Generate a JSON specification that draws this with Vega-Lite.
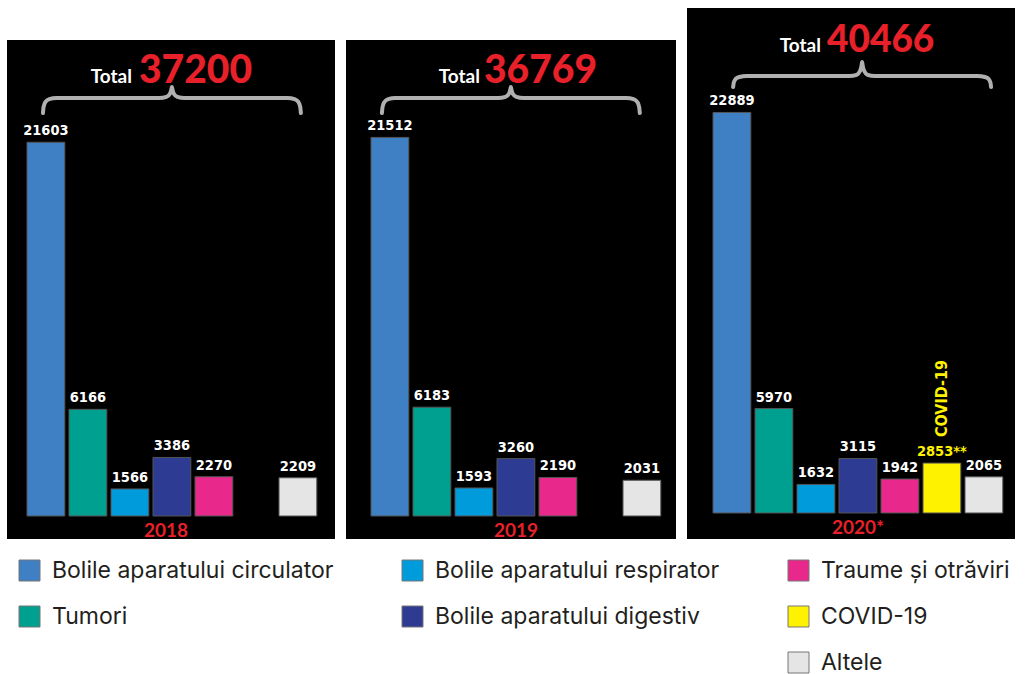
{
  "$schema": "https://vega.github.io/schema/vega-lite/v6.json",
  "background": "white",
  "padding": {"left": 7, "top": 8, "right": 0, "bottom": 0},
  "spacing": 11,
  "config": {"view": {"stroke": null}},
  "hconcat": [
    {
      "width": 328, "height": 531,
      "data": {"values": [
        {"year": "2018", "cat": "Bolile aparatului circulator", "value": 21603, "label": "21603"},
        {"year": "2018", "cat": "Tumori", "value": 6166, "label": "6166"},
        {"year": "2018", "cat": "Bolile aparatului respirator", "value": 1566, "label": "1566"},
        {"year": "2018", "cat": "Bolile aparatului digestiv", "value": 3386, "label": "3386"},
        {"year": "2018", "cat": "Traume și otrăviri", "value": 2270, "label": "2270"},
        {"year": "2018", "cat": "Altele", "value": 2209, "label": "2209"}
      ]},
      "resolve": {"scale": {"x": "independent"}},
      "layer": [
        {
          "data": {"values": [{"panel": "2018"}]},
          "mark": {"type": "rect", "color": "black"},
          "encoding": {
            "x": {"datum": 0, "type": "quantitative", "axis": null, "scale": {"domain": [0, 1], "nice": false, "zero": false}},
            "x2": {"datum": 1},
            "y": {"datum": -1329, "type": "quantitative", "axis": null, "scale": {"domain": [-1329, 29364], "nice": false, "zero": false}},
            "y2": {"datum": 27514}
          }
        },
        {
          "mark": {"type": "bar", "stroke": "#555", "strokeWidth": 1},
          "encoding": {
            "x": {"field": "cat", "type": "nominal", "axis": null, "scale": {"type": "band", "domain": ["Bolile aparatului circulator", "Tumori", "Bolile aparatului respirator", "Bolile aparatului digestiv", "Traume și otrăviri", "COVID-19", "Altele"], "paddingInner": 0.1, "paddingOuter": 0.4548, "align": 0.5236}},
            "y": {"field": "value", "type": "quantitative", "axis": null, "scale": {"domain": [-1329, 29364], "nice": false, "zero": false}},
            "color": {"field": "cat", "type": "nominal",
              "scale": {"domain": ["Bolile aparatului circulator", "Bolile aparatului respirator", "Traume și otrăviri", "Tumori", "Bolile aparatului digestiv", "COVID-19", " ", "  ", "Altele"],
                        "range": ["#3f7fc4", "#009bdb", "#e8298b", "#00a091", "#2e3b92", "#fff200", "rgba(0,0,0,0)", "rgba(0,0,0,0)", "#e5e5e5"]},
              "legend": {"orient": "none", "legendX": 11, "legendY": 551, "columns": 3, "direction": "horizontal", "title": null, "padding": 0,
                "symbolType": "square", "symbolSize": 441, "symbolStrokeWidth": 1,
                "symbolStrokeColor": {"expr": "datum.label === ' ' || datum.label === '  ' ? 'rgba(0,0,0,0)' : '#777777'"},
                "labelFont": "Inter", "labelFontSize": 23, "labelColor": "#231f20", "labelOffset": 11, "labelLimit": 400,
                "rowPadding": 21, "columnPadding": 66}}
          }
        },
        {
          "mark": {"type": "text", "baseline": "alphabetic", "dy": -7, "font": "DejaVu Sans Condensed, Roboto, sans-serif", "fontWeight": "bold", "fontSize": 14.5},
          "encoding": {
            "x": {"field": "cat", "type": "nominal", "axis": null, "scale": {"type": "band", "domain": ["Bolile aparatului circulator", "Tumori", "Bolile aparatului respirator", "Bolile aparatului digestiv", "Traume și otrăviri", "COVID-19", "Altele"], "paddingInner": 0.1, "paddingOuter": 0.4548, "align": 0.5236}},
            "y": {"field": "value", "type": "quantitative", "axis": null, "scale": {"domain": [-1329, 29364], "nice": false, "zero": false}},
            "text": {"field": "label"},
            "color": {"value": "white"}
          }
        },
        {
          "data": {"values": [
            {"u": -0.07, "v": 23295}, {"u": -0.055, "v": 23642}, {"u": -0.01, "v": 23931}, {"u": 0.08, "v": 24092}, {"u": 0.25, "v": 24162},
            {"u": 2.7, "v": 24162}, {"u": 2.87, "v": 24231}, {"u": 2.95, "v": 24393}, {"u": 2.985, "v": 24624}, {"u": 3.0, "v": 24798},
            {"u": 3.015, "v": 24624}, {"u": 3.05, "v": 24393}, {"u": 3.13, "v": 24231}, {"u": 3.3, "v": 24162}, {"u": 5.75, "v": 24162},
            {"u": 5.92, "v": 24092}, {"u": 6.01, "v": 23931}, {"u": 6.055, "v": 23642}, {"u": 6.07, "v": 23295}
          ]},
          "mark": {"type": "line", "interpolate": "monotone", "color": "#b0b0b0", "strokeWidth": 4, "strokeCap": "round"},
          "encoding": {
            "x": {"field": "u", "type": "quantitative", "axis": null, "scale": {"domain": [-0.926, 6.883], "nice": false, "zero": false}},
            "y": {"field": "v", "type": "quantitative", "axis": null, "scale": {"domain": [-1329, 29364], "nice": false, "zero": false}},
            "order": {"field": "u"}
          }
        },
        {
          "data": {"values": [{"total": 37200, "year": "2018"}]},
          "mark": {"type": "text", "text": "Total", "align": "right", "baseline": "alphabetic", "xOffset": -39, "font": "Lato", "fontWeight": "bold", "fontSize": 19, "color": "white"},
          "encoding": {"y": {"datum": 25029, "type": "quantitative", "axis": null, "scale": {"domain": [-1329, 29364], "nice": false, "zero": false}}}
        },
        {
          "data": {"values": [{"total": 37200, "year": "2018"}]},
          "mark": {"type": "text", "align": "left", "baseline": "alphabetic", "xOffset": -32, "font": "Lato", "fontWeight": 900, "fontSize": 39, "color": "#e8202a"},
          "encoding": {
            "y": {"datum": 25029, "type": "quantitative", "axis": null, "scale": {"domain": [-1329, 29364], "nice": false, "zero": false}},
            "text": {"field": "total", "type": "quantitative", "format": "d"}
          }
        },
        {
          "data": {"values": [{"total": 37200, "year": "2018"}]},
          "mark": {"type": "text", "align": "center", "baseline": "alphabetic", "xOffset": -5, "font": "Lato", "fontWeight": "bold", "fontSize": 19, "color": "#e8202a"},
          "encoding": {
            "y": {"datum": -1214, "type": "quantitative", "axis": null, "scale": {"domain": [-1329, 29364], "nice": false, "zero": false}},
            "text": {"field": "year"}
          }
        }
      ]
    },
    {
      "width": 330, "height": 531,
      "data": {"values": [
        {"year": "2019", "cat": "Bolile aparatului circulator", "value": 21512, "label": "21512"},
        {"year": "2019", "cat": "Tumori", "value": 6183, "label": "6183"},
        {"year": "2019", "cat": "Bolile aparatului respirator", "value": 1593, "label": "1593"},
        {"year": "2019", "cat": "Bolile aparatului digestiv", "value": 3260, "label": "3260"},
        {"year": "2019", "cat": "Traume și otrăviri", "value": 2190, "label": "2190"},
        {"year": "2019", "cat": "Altele", "value": 2031, "label": "2031"}
      ]},
      "resolve": {"scale": {"x": "independent"}},
      "layer": [
        {
          "data": {"values": [{"panel": "2019"}]},
          "mark": {"type": "rect", "color": "black"},
          "encoding": {
            "x": {"datum": 0, "type": "quantitative", "axis": null, "scale": {"domain": [0, 1], "nice": false, "zero": false}},
            "x2": {"datum": 1},
            "y": {"datum": -1307, "type": "quantitative", "axis": null, "scale": {"domain": [-1307, 28864], "nice": false, "zero": false}},
            "y2": {"datum": 27045}
          }
        },
        {
          "mark": {"type": "bar", "stroke": "#555", "strokeWidth": 1},
          "encoding": {
            "x": {"field": "cat", "type": "nominal", "axis": null, "scale": {"type": "band", "domain": ["Bolile aparatului circulator", "Tumori", "Bolile aparatului respirator", "Bolile aparatului digestiv", "Traume și otrăviri", "COVID-19", "Altele"], "paddingInner": 0.1, "paddingOuter": 0.4786, "align": 0.622}},
            "y": {"field": "value", "type": "quantitative", "axis": null, "scale": {"domain": [-1307, 28864], "nice": false, "zero": false}},
            "color": {"field": "cat", "type": "nominal",
              "scale": {"domain": ["Bolile aparatului circulator", "Bolile aparatului respirator", "Traume și otrăviri", "Tumori", "Bolile aparatului digestiv", "COVID-19", " ", "  ", "Altele"],
                        "range": ["#3f7fc4", "#009bdb", "#e8298b", "#00a091", "#2e3b92", "#fff200", "rgba(0,0,0,0)", "rgba(0,0,0,0)", "#e5e5e5"]},
              "legend": {"orient": "none", "legendX": 11, "legendY": 551, "columns": 3, "direction": "horizontal", "title": null, "padding": 0,
                "symbolType": "square", "symbolSize": 441, "symbolStrokeWidth": 1,
                "symbolStrokeColor": {"expr": "datum.label === ' ' || datum.label === '  ' ? 'rgba(0,0,0,0)' : '#777777'"},
                "labelFont": "Inter", "labelFontSize": 23, "labelColor": "#231f20", "labelOffset": 11, "labelLimit": 400,
                "rowPadding": 21, "columnPadding": 66}}
          }
        },
        {
          "mark": {"type": "text", "baseline": "alphabetic", "dy": -7, "font": "DejaVu Sans Condensed, Roboto, sans-serif", "fontWeight": "bold", "fontSize": 14.5},
          "encoding": {
            "x": {"field": "cat", "type": "nominal", "axis": null, "scale": {"type": "band", "domain": ["Bolile aparatului circulator", "Tumori", "Bolile aparatului respirator", "Bolile aparatului digestiv", "Traume și otrăviri", "COVID-19", "Altele"], "paddingInner": 0.1, "paddingOuter": 0.4786, "align": 0.622}},
            "y": {"field": "value", "type": "quantitative", "axis": null, "scale": {"domain": [-1307, 28864], "nice": false, "zero": false}},
            "text": {"field": "label"},
            "color": {"value": "white"}
          }
        },
        {
          "data": {"values": [
            {"u": -0.19, "v": 22898}, {"u": -0.175, "v": 23239}, {"u": -0.13, "v": 23523}, {"u": -0.04, "v": 23682}, {"u": 0.13, "v": 23750},
            {"u": 2.58, "v": 23750}, {"u": 2.75, "v": 23818}, {"u": 2.83, "v": 23977}, {"u": 2.865, "v": 24205}, {"u": 2.88, "v": 24375},
            {"u": 2.895, "v": 24205}, {"u": 2.93, "v": 23977}, {"u": 3.01, "v": 23818}, {"u": 3.18, "v": 23750}, {"u": 5.63, "v": 23750},
            {"u": 5.8, "v": 23682}, {"u": 5.89, "v": 23523}, {"u": 5.935, "v": 23239}, {"u": 5.95, "v": 22898}
          ]},
          "mark": {"type": "line", "interpolate": "monotone", "color": "#b0b0b0", "strokeWidth": 4, "strokeCap": "round"},
          "encoding": {
            "x": {"field": "u", "type": "quantitative", "axis": null, "scale": {"domain": [-1.045, 6.812], "nice": false, "zero": false}},
            "y": {"field": "v", "type": "quantitative", "axis": null, "scale": {"domain": [-1307, 28864], "nice": false, "zero": false}},
            "order": {"field": "u"}
          }
        },
        {
          "data": {"values": [{"total": 36769, "year": "2019"}]},
          "mark": {"type": "text", "text": "Total", "align": "right", "baseline": "alphabetic", "xOffset": -31, "font": "Lato", "fontWeight": "bold", "fontSize": 19, "color": "white"},
          "encoding": {"y": {"datum": 24602, "type": "quantitative", "axis": null, "scale": {"domain": [-1307, 28864], "nice": false, "zero": false}}}
        },
        {
          "data": {"values": [{"total": 36769, "year": "2019"}]},
          "mark": {"type": "text", "align": "left", "baseline": "alphabetic", "xOffset": -27, "font": "Lato", "fontWeight": 900, "fontSize": 39, "color": "#e8202a"},
          "encoding": {
            "y": {"datum": 24602, "type": "quantitative", "axis": null, "scale": {"domain": [-1307, 28864], "nice": false, "zero": false}},
            "text": {"field": "total", "type": "quantitative", "format": "d"}
          }
        },
        {
          "data": {"values": [{"total": 36769, "year": "2019"}]},
          "mark": {"type": "text", "align": "center", "baseline": "alphabetic", "xOffset": 5, "font": "Lato", "fontWeight": "bold", "fontSize": 19, "color": "#e8202a"},
          "encoding": {
            "y": {"datum": -1193, "type": "quantitative", "axis": null, "scale": {"domain": [-1307, 28864], "nice": false, "zero": false}},
            "text": {"field": "year"}
          }
        }
      ]
    },
    {
      "width": 328, "height": 531,
      "view": {"fill": "black", "stroke": null},
      "data": {"values": [
        {"year": "2020*", "cat": "Bolile aparatului circulator", "value": 22889, "label": "22889"},
        {"year": "2020*", "cat": "Tumori", "value": 5970, "label": "5970"},
        {"year": "2020*", "cat": "Bolile aparatului respirator", "value": 1632, "label": "1632"},
        {"year": "2020*", "cat": "Bolile aparatului digestiv", "value": 3115, "label": "3115"},
        {"year": "2020*", "cat": "Traume și otrăviri", "value": 1942, "label": "1942"},
        {"year": "2020*", "cat": "COVID-19", "value": 2853, "label": "2853**"},
        {"year": "2020*", "cat": "Altele", "value": 2065, "label": "2065"}
      ]},
      "resolve": {"scale": {"x": "independent"}},
      "layer": [
        {
          "mark": {"type": "bar", "stroke": "#555", "strokeWidth": 1},
          "encoding": {
            "x": {"field": "cat", "type": "nominal", "axis": null, "scale": {"type": "band", "domain": ["Bolile aparatului circulator", "Tumori", "Bolile aparatului respirator", "Bolile aparatului digestiv", "Traume și otrăviri", "COVID-19", "Altele"], "paddingInner": 0.1, "paddingOuter": 0.4548, "align": 0.681}},
            "y": {"field": "value", "type": "quantitative", "axis": null, "scale": {"domain": [-1486, 28857], "nice": false, "zero": false}},
            "color": {"field": "cat", "type": "nominal",
              "scale": {"domain": ["Bolile aparatului circulator", "Bolile aparatului respirator", "Traume și otrăviri", "Tumori", "Bolile aparatului digestiv", "COVID-19", " ", "  ", "Altele"],
                        "range": ["#3f7fc4", "#009bdb", "#e8298b", "#00a091", "#2e3b92", "#fff200", "rgba(0,0,0,0)", "rgba(0,0,0,0)", "#e5e5e5"]},
              "legend": {"orient": "none", "legendX": 11, "legendY": 551, "columns": 3, "direction": "horizontal", "title": null, "padding": 0,
                "symbolType": "square", "symbolSize": 441, "symbolStrokeWidth": 1,
                "symbolStrokeColor": {"expr": "datum.label === ' ' || datum.label === '  ' ? 'rgba(0,0,0,0)' : '#777777'"},
                "labelFont": "Inter", "labelFontSize": 23, "labelColor": "#231f20", "labelOffset": 11, "labelLimit": 400,
                "rowPadding": 21, "columnPadding": 66}}
          }
        },
        {
          "mark": {"type": "text", "baseline": "alphabetic", "dy": -7, "font": "DejaVu Sans Condensed, Roboto, sans-serif", "fontWeight": "bold", "fontSize": 14.5},
          "encoding": {
            "x": {"field": "cat", "type": "nominal", "axis": null, "scale": {"type": "band", "domain": ["Bolile aparatului circulator", "Tumori", "Bolile aparatului respirator", "Bolile aparatului digestiv", "Traume și otrăviri", "COVID-19", "Altele"], "paddingInner": 0.1, "paddingOuter": 0.4548, "align": 0.681}},
            "y": {"field": "value", "type": "quantitative", "axis": null, "scale": {"domain": [-1486, 28857], "nice": false, "zero": false}},
            "text": {"field": "label"},
            "color": {"condition": {"test": "datum.cat === 'COVID-19'", "value": "#fff200"}, "value": "white"}
          }
        },
        {
          "transform": [{"filter": "datum.cat === 'COVID-19'"}],
          "mark": {"type": "text", "text": "COVID-19", "angle": 270, "align": "left", "baseline": "middle", "yOffset": -26, "font": "DejaVu Sans Condensed, Roboto, sans-serif", "fontWeight": "bold", "fontSize": 16, "color": "#fff200"},
          "encoding": {
            "x": {"field": "cat", "type": "nominal", "axis": null, "scale": {"type": "band", "domain": ["Bolile aparatului circulator", "Tumori", "Bolile aparatului respirator", "Bolile aparatului digestiv", "Traume și otrăviri", "COVID-19", "Altele"], "paddingInner": 0.1, "paddingOuter": 0.4548, "align": 0.681}},
            "y": {"field": "value", "type": "quantitative", "axis": null, "scale": {"domain": [-1486, 28857], "nice": false, "zero": false}}
          }
        },
        {
          "data": {"values": [
            {"u": 0.03, "v": 24343}, {"u": 0.045, "v": 24594}, {"u": 0.09, "v": 24800}, {"u": 0.18, "v": 24914}, {"u": 0.35, "v": 24971},
            {"u": 2.8, "v": 24971}, {"u": 2.97, "v": 25040}, {"u": 3.05, "v": 25257}, {"u": 3.085, "v": 25543}, {"u": 3.1, "v": 25771},
            {"u": 3.115, "v": 25543}, {"u": 3.15, "v": 25257}, {"u": 3.23, "v": 25040}, {"u": 3.4, "v": 24971}, {"u": 5.85, "v": 24971},
            {"u": 6.02, "v": 24914}, {"u": 6.11, "v": 24800}, {"u": 6.155, "v": 24594}, {"u": 6.17, "v": 24343}
          ]},
          "mark": {"type": "line", "interpolate": "monotone", "color": "#b0b0b0", "strokeWidth": 4, "strokeCap": "round"},
          "encoding": {
            "x": {"field": "u", "type": "quantitative", "axis": null, "scale": {"domain": [-1.069, 6.74], "nice": false, "zero": false}},
            "y": {"field": "v", "type": "quantitative", "axis": null, "scale": {"domain": [-1486, 28857], "nice": false, "zero": false}},
            "order": {"field": "u"}
          }
        },
        {
          "data": {"values": [{"total": 40466, "year": "2020*"}]},
          "mark": {"type": "text", "text": "Total", "align": "right", "baseline": "alphabetic", "xOffset": -30, "font": "Lato", "fontWeight": "bold", "fontSize": 19, "color": "white"},
          "encoding": {"y": {"datum": 26343, "type": "quantitative", "axis": null, "scale": {"domain": [-1486, 28857], "nice": false, "zero": false}}}
        },
        {
          "data": {"values": [{"total": 40466, "year": "2020*"}]},
          "mark": {"type": "text", "align": "left", "baseline": "alphabetic", "xOffset": -24, "font": "Lato", "fontWeight": 900, "fontSize": 37, "color": "#e8202a"},
          "encoding": {
            "y": {"datum": 26343, "type": "quantitative", "axis": null, "scale": {"domain": [-1486, 28857], "nice": false, "zero": false}},
            "text": {"field": "total", "type": "quantitative", "format": "d"}
          }
        },
        {
          "data": {"values": [{"total": 40466, "year": "2020*"}]},
          "mark": {"type": "text", "align": "center", "baseline": "alphabetic", "xOffset": 7, "font": "Lato", "fontWeight": "bold", "fontSize": 19, "color": "#e8202a"},
          "encoding": {
            "y": {"datum": -1200, "type": "quantitative", "axis": null, "scale": {"domain": [-1486, 28857], "nice": false, "zero": false}},
            "text": {"field": "year"}
          }
        }
      ]
    }
  ]
}
